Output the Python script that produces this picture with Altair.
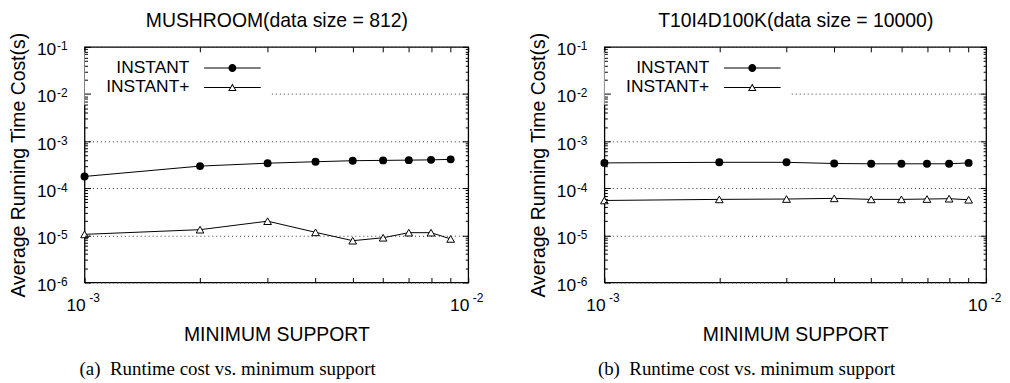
import altair as alt
import pandas as pd

# ---------------- data ----------------
support = [0.001, 0.002, 0.003, 0.004, 0.005, 0.006, 0.007, 0.008, 0.009]
series = ["INSTANT", "INSTANT+"]

mush_instant = [1.78e-4, 2.95e-4, 3.40e-4, 3.65e-4, 3.84e-4, 3.90e-4, 3.95e-4, 4.00e-4, 4.10e-4]
mush_plus = [1.05e-5, 1.32e-5, 2.00e-5, 1.16e-5, 7.7e-6, 8.9e-6, 1.14e-5, 1.14e-5, 8.4e-6]

t10_instant = [3.45e-4, 3.55e-4, 3.55e-4, 3.35e-4, 3.30e-4, 3.30e-4, 3.30e-4, 3.30e-4, 3.45e-4]
t10_plus = [5.5e-5, 5.8e-5, 5.9e-5, 6.1e-5, 5.8e-5, 5.8e-5, 5.9e-5, 6.0e-5, 5.7e-5]

panel_titles = ["MUSHROOM(data size = 812)", "T10I4D100K(data size = 10000)"]
captions = ["(a)\u00a0 Runtime cost vs. minimum support", "(b)\u00a0 Runtime cost vs. minimum support"]
x_title = "MINIMUM SUPPORT"
y_title = "Average Running Time Cost(s)"

x_tick_values = [0.001, 0.002, 0.003, 0.004, 0.005, 0.006, 0.007, 0.008, 0.009, 0.01]
x_label_values = [0.001, 0.01]
y_major = [1e-6, 1e-5, 1e-4, 1e-3, 1e-2, 1e-1]
y_minor = [m * d for d in [1e-6, 1e-5, 1e-4, 1e-3, 1e-2] for m in [2, 3, 4, 5, 6, 7, 8, 9]]

FONT = "Liberation Sans"
SERIF = "Liberation Serif"
H = 237

# legend symbols drawn as filled shapes (path units = 6 px):
# a thin line with the marker in the middle (gnuplot style)
def seg(x0, x1, t=0.085):
    return f"M{x0},-{t}L{x1},-{t}L{x1},{t}L{x0},{t}Z"


CIRCLE_SYM = (seg(-4.75, -0.6) + seg(0.6, 4.75)
              + "M0.67,0A0.67,0.67,0,1,1,-0.67,0A0.67,0.67,0,1,1,0.67,0Z")
TRI_SYM = (seg(-4.75, -0.37) + seg(0.37, 4.75)
           + "M0,-0.65L0.72,0.6L-0.72,0.6Z"      # outer triangle
           + "M0,-0.32L-0.45,0.43L0.45,0.43Z")   # hole (opposite winding)


def common(**kw):
    d = dict(domain=False, labelFont=FONT, titleFont=FONT, labelColor="black",
             titleColor="black", tickColor="black", tickWidth=1,
             labelFlush=False, labelOverlap=False, titleFontWeight="normal")
    d.update(kw)
    return alt.Axis(**d)


def panel(title, caption, inst, plus, width):
    df = pd.DataFrame({
        "support": support + support,
        "time": inst + plus,
        "series": [series[0]] * len(support) + [series[1]] * len(support),
    })
    xs = alt.Scale(type="log", domain=[0.001, 0.01], nice=False)
    ys = alt.Scale(type="log", domain=[1e-6, 1e-1], nice=False)

    x_major = common(orient="bottom", values=x_tick_values, tickSize=5, offset=-5,
                     labelExpr="(datum.value < 0.0015 || datum.value > 0.0095) ? '10' : ''",
                     labelFontSize=17.5, labelPadding=14, labelOffset=-9,
                     labelAlign="center", title=x_title, titleFontSize=19.5,
                     titlePadding=12, zindex=1, grid=False)
    x_exp = common(orient="bottom", values=x_label_values, ticks=False, tickSize=0,
                   labelExpr="datum.value < 0.005 ? '-3' : '-2'", labelFontSize=12,
                   labelPadding=10, labelOffset=9.5, labelAlign="center",
                   title=None, grid=False)
    x_top = common(orient="top", values=x_tick_values, tickSize=5, offset=-5,
                   labels=False, title=title, titleFontSize=19.5, titlePadding=16,
                   zindex=1, grid=False)

    y_major_left = common(orient="left", values=y_major, tickSize=6, offset=-6,
                          labelExpr="'10'", labelFontSize=17.5, labelPadding=29,
                          labelOffset=3, labelAlign="right", labelBaseline="middle",
                          title=y_title, titleFontSize=19.5, titleAngle=270,
                          titleX=-72, titleY=H / 2, titleBaseline="middle",
                          titleAlign="center", zindex=1, grid=False)
    y_exp_left = common(orient="left", values=y_major, ticks=False, tickSize=0,
                        labelExpr="'' + round(log(datum.value) / LN10)",
                        labelFontSize=12, labelPadding=17.5, labelOffset=-1,
                        labelAlign="right", labelBaseline="middle", title=None,
                        grid=True, gridDash=[1, 3], gridColor="#333333", gridWidth=1,
                        zindex=0)
    y_minor_left = common(orient="left", values=y_minor, tickSize=3, offset=-3,
                          labels=False, title=None, zindex=1, grid=False)
    y_major_right = common(orient="right", values=y_major, tickSize=6, offset=-6,
                           labels=False, title=None, zindex=1, grid=False)
    y_minor_right = common(orient="right", values=y_minor, tickSize=3, offset=-3,
                           labels=False, title=None, zindex=1, grid=False)

    base = alt.Chart(df)
    lines = base.mark_line(color="black", strokeWidth=1).encode(
        x=alt.X("support:Q", scale=xs, axis=x_major),
        y=alt.Y("time:Q", scale=ys, axis=y_major_left),
        detail="series:N",
    )
    circles = base.transform_filter(f"datum.series == '{series[0]}'").mark_point(
        shape="circle", filled=True, color="black", size=64, opacity=1
    ).encode(
        x=alt.X("support:Q", scale=xs, axis=x_exp),
        y=alt.Y("time:Q", scale=ys, axis=y_exp_left),
    )
    tris = base.transform_filter(f"datum.series == '{series[1]}'").mark_point(
        shape="triangle-up", filled=True, fill="white", stroke="black",
        strokeWidth=1, size=60, opacity=1
    ).encode(
        x=alt.X("support:Q", scale=xs, axis=x_top),
        y=alt.Y("time:Q", scale=ys, axis=y_minor_left),
    )
    leg_props = dict(title=None, orient="none", legendX=0, legendY=3.5, padding=9,
                     fillColor="white", direction="vertical",
                     symbolSize=144, symbolStrokeWidth=0,
                     symbolFillColor="black", symbolOpacity=1,
                     symbolOffset=131, labelOffset={"expr": "-52"}, labelAlign="right",
                     labelFont=FONT, labelFontSize=17.5, labelColor="black",
                     rowPadding=0.6, labelLimit=0)
    legend_layer = base.transform_filter("datum.time < 0").mark_point(
        filled=True, fill="black", strokeWidth=0, opacity=1
    ).encode(
        x=alt.X("support:Q", scale=xs, axis=None),
        y=alt.Y("time:Q", scale=ys, axis=y_major_right),
        shape=alt.Shape("series:N", scale=alt.Scale(domain=series, range=[CIRCLE_SYM, TRI_SYM]),
                        legend=alt.Legend(**leg_props)),
    )
    minor_layer = base.transform_filter("datum.time < 0").mark_point(opacity=0).encode(
        x=alt.X("support:Q", scale=xs, axis=None),
        y=alt.Y("time:Q", scale=ys, axis=y_minor_right),
    )
    return alt.layer(lines, circles, tris, legend_layer, minor_layer).resolve_axis(
        x="independent", y="independent"
    ).properties(
        width=width, height=H,
        title=alt.TitleParams(caption, orient="bottom", font=SERIF, fontSize=19,
                              fontWeight="normal", color="black", frame="group",
                              anchor="middle", dx=-49, offset=16),
    )


left = panel(panel_titles[0], captions[0], mush_instant, mush_plus, 386)
right = panel(panel_titles[1], captions[1], t10_instant, t10_plus, 384)

chart = alt.hconcat(left, right, spacing=44).resolve_scale(
    shape="independent"
).resolve_legend(
    shape="independent"
).configure_view(
    stroke="black", strokeWidth=1.3
).properties(
    padding={"left": 0, "top": 0, "right": 0, "bottom": 0}
)

chart.save("out.html", embed_options={"renderer": "svg", "actions": False})
